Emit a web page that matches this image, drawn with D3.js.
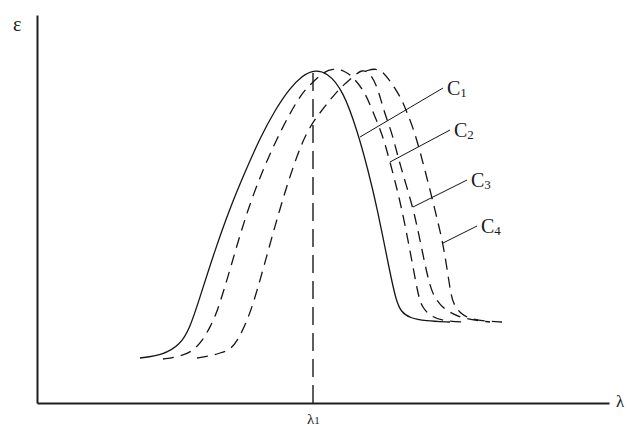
<!DOCTYPE html>
<html>
<head>
<meta charset="utf-8">
<script src="https://cdn.jsdelivr.net/npm/d3@7"></script>
<style>
  html, body { margin: 0; padding: 0; background: #fff; }
  svg { display: block; }
  text { font-family: "Liberation Serif", "DejaVu Serif", serif; fill: #1a1a1a; }
</style>
</head>
<body>
<svg id="chart" width="628" height="427"></svg>
<script>
// Absorption bands for four concentrations: [wavelength (rel.), epsilon (rel.)]
const curveNames = ["C1", "C2", "C3", "C4"];
const c1 = [[25.75,11.25],[31.5,12],[35.75,14.5],[38.25,18.75],[40.75,26.5],[44.5,38.25],[48.25,48.75],
  [52,57.75],[55.75,66.25],[59.5,73.25],[63.25,78.75],[66.25,81.75],[69,83.25],[72.5,82.75],[76.5,78.25],
  [80.25,67.5],[82.75,58.25],[85,49],[88.25,32.5],[89.75,25.75],[91,22.75],[93.25,21.25],
  [97,20.5],[103.25,20.25]];
const c2 = [[31.5,11],[35.25,11.5],[38.75,12.75],[41.5,15.75],[43.25,19],[45,22.5],[48.25,33.25],
  [53.25,50.75],[60,66.5],[65.75,77],[68.25,79.5],[71.25,82.5],[74,83.75],[77,83],[79,81.5],
  [82,77.75],[83.75,73.25],[86.25,67.5],[88.25,60.25],[90.75,50.75],[93.25,38.25],[95.25,27],
  [96.25,24],[98.25,21.75],[101.5,20.5],[107,20.25]];
const c3 = [[40,11.25],[43.25,11.75],[45.75,12.5],[48.25,13.25],[50.25,15.75],[52,19.5],[53.75,23.75],
  [56.5,33.25],[61.25,50.75],[66.5,66.5],[70.25,72],[73.25,75.75],[75.75,78.75],[79,81.5],
  [81.25,83.5],[83.25,82.5],[85,79.25],[86.25,74.75],[87.25,71.5],[88.75,67.5],[90.75,59.5],
  [94,49],[95.75,40.75],[98,29.75],[99.25,26.75],[100.75,24.5],[103.25,22.5],[107,21],[113.25,20.25]];
const c4 = [[82.25,83],[84.75,83.75],[86.75,82.5],[88.25,80.5],[89.75,78.25],[91.25,75.75],[92.75,72],
  [94.5,67.5],[97,58.25],[99.5,48.25],[101.5,40],[102.75,32],[103.5,27],[104.25,24.5],[105.75,22.5],
  [108.25,21],[112,20.5],[116.25,20.25]];
const seriesValues = [c1, c2, c3, c4];

// Leader lines: point on the band -> label anchor
const leaderFrom = [[80.75,66.5],[88.25,60.25],[94,49],[101.5,40]];
const leaderTo = [[101.5,78.75],[103.25,68.25],[107.5,55.75],[110,44.25]];

// Marked wavelength and its peak height
const lambda1 = 69;
const lambda1Peak = 83.25;
const tickLabels = ["λ", "1"];
const axisLabels = { x: "λ", y: "ε" };

const svg = d3.select("#chart");
const x = d3.scaleLinear().domain([0, 143]).range([37, 609]);
const y = d3.scaleLinear().domain([0, 97]).range([403, 15]);

// Axes: bare lines without ticks
svg.append("g").attr("transform", `translate(0,${y(0)})`)
  .call(d3.axisBottom(x).tickValues([]).tickSizeOuter(0));
svg.append("g").attr("transform", `translate(${x(0)},0)`)
  .call(d3.axisLeft(y).tickValues([]).tickSizeOuter(0));
svg.selectAll(".domain").attr("stroke", "#1e1e1e").attr("stroke-width", 2);

// Vertical reference at lambda1
svg.append("line")
  .attr("x1", x(lambda1)).attr("x2", x(lambda1))
  .attr("y1", y(0)).attr("y2", y(lambda1Peak))
  .attr("stroke", "#1a1a1a").attr("stroke-width", 1.4)
  .attr("stroke-dasharray", "18,8");

// Bands
const line = d3.line()
  .x(d => x(d[0])).y(d => y(d[1]))
  .curve(d3.curveBasis);

svg.append("g").selectAll("path")
  .data(seriesValues)
  .join("path")
  .attr("d", line)
  .attr("fill", "none")
  .attr("stroke", "#151515")
  .attr("stroke-width", 1.3)
  .attr("stroke-dasharray", (d, i) => i === 0 ? null : "11,7");

// Leaders and labels
svg.append("g").selectAll("line")
  .data(curveNames)
  .join("line")
  .attr("x1", (d, i) => x(leaderFrom[i][0])).attr("y1", (d, i) => y(leaderFrom[i][1]))
  .attr("x2", (d, i) => x(leaderTo[i][0])).attr("y2", (d, i) => y(leaderTo[i][1]))
  .attr("stroke", "#151515").attr("stroke-width", 1);

const labels = svg.append("g").selectAll("text")
  .data(curveNames)
  .join("text")
  .attr("x", (d, i) => x(leaderTo[i][0]) + 4)
  .attr("y", (d, i) => y(leaderTo[i][1]) + 7)
  .attr("font-size", 20);
labels.append("tspan").text(d => d[0]);
labels.append("tspan").attr("font-size", 13).attr("dy", 2).text(d => d.slice(1));

// Axis names
svg.append("text").attr("x", 13).attr("y", 31).attr("font-size", 20).text(axisLabels.y);
svg.append("text").attr("x", 616).attr("y", 407).attr("font-size", 17).text(axisLabels.x);

// lambda1 label under the axis
const l1 = svg.append("text")
  .attr("x", x(lambda1) - 6).attr("y", 424)
  .attr("font-size", 15);
l1.append("tspan").text(tickLabels[0]);
l1.append("tspan").attr("font-size", 11).text(tickLabels[1]);
</script>
</body>
</html>
